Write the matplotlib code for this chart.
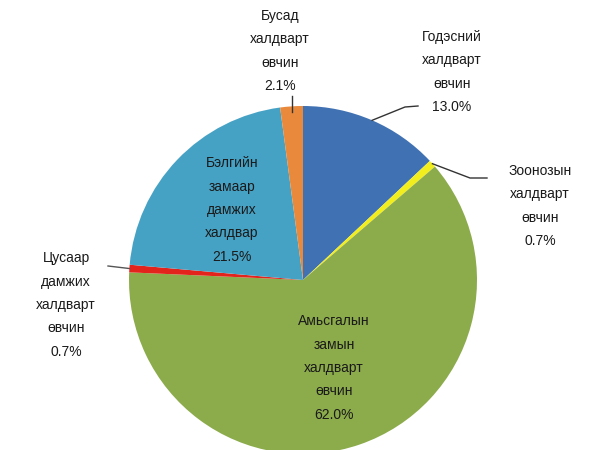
import numpy as np
import matplotlib
matplotlib.use("Agg")
import matplotlib.pyplot as plt

labels = ["Годэсний\nхалдварт\nөвчин", "Зоонозын\nхалдварт\nөвчин",
          "Амьсгалын\nзамын\nхалдварт\nөвчин", "Цусаар\nдамжих\nхалдварт\nөвчин",
          "Бэлгийн\nзамаар\nдамжих\nхалдвар", "Бусад\nхалдварт\nөвчин"]
values = [13.0, 0.7, 62.0, 0.7, 21.5, 2.1]
colors = ["#4071b2", "#f2ee1e", "#8cab4b", "#e3241d", "#46a2c4", "#e8893c"]

plt.rcParams['font.family'] = ['Liberation Sans', 'DejaVu Sans']

fig = plt.figure(figsize=(5.9, 4.5), dpi=100)
ax = fig.add_axes([0, 0, 1, 1])
cx, cy, R = 303, 450 - 280, 174
wedges, _ = ax.pie(values, colors=colors, startangle=90, counterclock=False,
                   center=(cx, cy), radius=R, frame=True,
                   wedgeprops=dict(linewidth=0))
ax.set_xlim(0, 590)
ax.set_ylim(0, 450)
ax.set_aspect('equal')
ax.axis('off')

txt = dict(fontsize=10, color="#1a1a1a", ha="center", va="center",
           linespacing=1.85)

def anchor(w, rf=1.0):
    th = np.deg2rad((w.theta1 + w.theta2) / 2)
    return cx + R * rf * np.cos(th), cy + R * rf * np.sin(th)

lbl = [f"{l}\n{v:.1f}%" for l, v in zip(labels, values)]

# outside labels with leader lines
a0 = anchor(wedges[0])
ax.plot([a0[0], 405, 418], [a0[1], 450 - 107, 450 - 106], color="#333333", lw=1)
ax.text(452, 450 - 72, lbl[0], **txt)
a1 = anchor(wedges[1])
ax.plot([a1[0], 470, 487], [a1[1], 450 - 178, 450 - 178], color="#333333", lw=1)
ax.text(540, 450 - 206, lbl[1], **txt)
a3 = anchor(wedges[3])
ax.plot([a3[0], 108], [a3[1], 450 - 266], color="#555555", lw=1)
ax.text(66, 450 - 305, lbl[3], **txt)
a5 = anchor(wedges[5])
ax.plot([a5[0], a5[0]], [a5[1] - 6, 450 - 96], color="#333333", lw=1)
ax.text(280, 450 - 51, lbl[5], **txt)
# inside labels
ax.text(232, 450 - 210, lbl[4], **txt)
ax.text(334, 450 - 368, lbl[2], **txt)

fig.savefig("out.png", dpi=100)
